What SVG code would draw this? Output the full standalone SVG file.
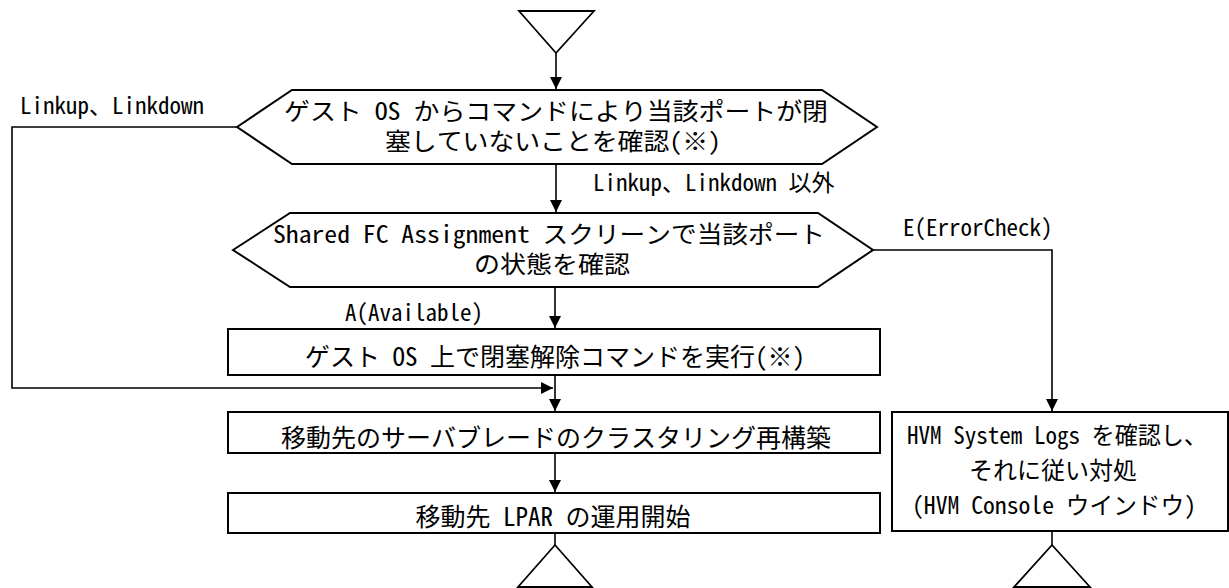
<svg xmlns="http://www.w3.org/2000/svg" width="1229" height="588" viewBox="0 0 1229 588">
<defs>
<marker id="arr" viewBox="0 0 12 12" refX="12" refY="6" markerWidth="12" markerHeight="12" markerUnits="userSpaceOnUse" orient="auto">
<path d="M0,0 L12,6 L0,12 Z" fill="#000"/>
</marker>
</defs>
<style>
.shape{fill:#fff;stroke:#000;stroke-width:2}
.term{fill:#fff;stroke:#000;stroke-width:1.8}
.conn{fill:none;stroke:#000;stroke-width:1.6}
.t{font-family:"Noto Sans Mono CJK JP","Noto Sans CJK JP",monospace;fill:#000}
.n{font-size:24px;text-anchor:middle}
.b{font-size:25px;text-anchor:middle}
.r{font-size:24px;text-anchor:middle}
.l{font-size:23px}
</style>
<rect width="1229" height="588" fill="#fff"/>
<g id="connectors">
<path class="conn" d="M556,53 V89" marker-end="url(#arr)"/>
<path class="conn" d="M556,164 V212" marker-end="url(#arr)"/>
<path class="conn" d="M555,287 V328" marker-end="url(#arr)"/>
<path class="conn" d="M555,375 V411" marker-end="url(#arr)"/>
<path class="conn" d="M555,453 V492" marker-end="url(#arr)"/>
<path class="conn" d="M555,533 V545"/>
<path class="conn" d="M237,127 H12 V388 H553" marker-end="url(#arr)"/>
<path class="conn" d="M873,250 H1052 V411" marker-end="url(#arr)"/>
<path class="conn" d="M1052,531 V545"/>
<text class="t l" x="20" y="114">Linkup、Linkdown</text>
<text class="t l" x="593" y="191">Linkup、Linkdown 以外</text>
<text class="t l" x="903" y="236">E(ErrorCheck)</text>
<text class="t l" x="345" y="321">A(Available)</text>
</g>
<g id="start">
<polygon class="term" points="519,11 594,11 556,53"/>
</g>
<g id="check-os">
<polygon class="shape" points="237,127 292,90 822,90 877,127 822,164 292,164"/>
<text class="t n"><tspan x="556" y="120" textLength="544" lengthAdjust="spacingAndGlyphs">ゲスト OS からコマンドにより当該ポートが閉</tspan><tspan x="553" y="150" textLength="336" lengthAdjust="spacingAndGlyphs">塞していないことを確認(※)</tspan></text>
</g>
<g id="check-fc">
<polygon class="shape" points="233,250 290,213 818,213 873,250 818,287 290,287"/>
<text class="t n"><tspan x="549" y="243" textLength="552" lengthAdjust="spacingAndGlyphs">Shared FC Assignment スクリーンで当該ポート</tspan><tspan x="552" y="273" textLength="156" lengthAdjust="spacingAndGlyphs">の状態を確認</tspan></text>
</g>
<g id="unblock">
<rect class="shape" x="228" y="329" width="652" height="46"/>
<text class="t b" x="555" y="366">ゲスト OS 上で閉塞解除コマンドを実行(※)</text>
</g>
<g id="cluster">
<rect class="shape" x="228" y="412" width="652" height="41"/>
<text class="t b" x="556" y="447">移動先のサーバブレードのクラスタリング再構築</text>
</g>
<g id="start-lpar">
<rect class="shape" x="228" y="493" width="652" height="40"/>
<text class="t b" x="553" y="526">移動先 LPAR の運用開始</text>
</g>
<g id="end-left">
<polygon class="term" points="555,545 592,587 518,587"/>
</g>
<g id="hvm-logs">
<rect class="shape" x="892" y="412" width="336" height="119"/>
<text class="t r" x="1057" y="444" textLength="300" lengthAdjust="spacingAndGlyphs">HVM System Logs を確認し、</text>
<text class="t r" x="1053" y="479">それに従い対処</text>
<text class="t r" x="1054" y="514" textLength="284" lengthAdjust="spacingAndGlyphs">(HVM Console ウインドウ)</text>
</g>
<g id="end-right">
<polygon class="term" points="1052,545 1090,587 1014,587"/>
</g>
</svg>
